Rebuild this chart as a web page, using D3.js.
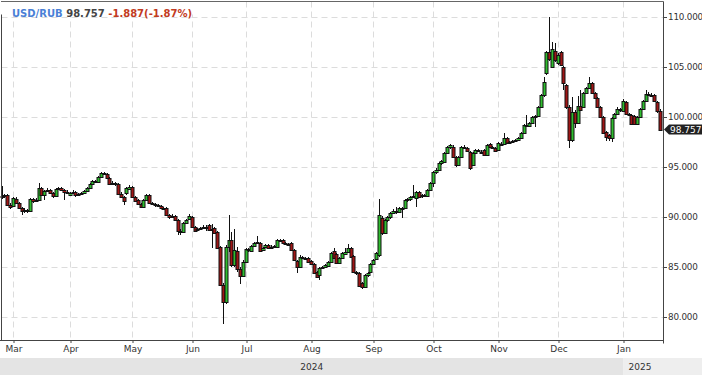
<!DOCTYPE html>
<html><head><meta charset="utf-8">
<script src="https://cdn.jsdelivr.net/npm/d3@7"></script>
<style>html,body{margin:0;padding:0;background:#fff;}svg{display:block;}</style>
</head><body><svg id="c" width="702" height="375"></svg>
<script>
// ---- data ----
const symbol = "USD/RUB";
const lastPriceText = "98.757";
const changeText = "-1.887(-1.87%)";
const firstDay = "2024-02-26";
const lastDay = "2025-01-21";
const holidays = ["2024-03-08","2024-05-09","2024-05-10","2024-06-12","2024-11-04","2025-01-01"];
const workingWeekends = ["2024-11-02","2024-12-28"];

const open = [
92.0,92.1,92.2,91.2,91.1,91.8,91.4,90.9,90.6,90.7,
90.6,91.8,91.6,91.7,92.9,92.2,92.6,92.7,92.4,92.1,
92.8,92.9,92.7,92.5,92.2,92.4,92.5,92.2,92.3,92.4,
92.6,92.9,93.3,93.6,93.5,94.0,94.4,94.3,93.9,93.3,
93.4,93.3,92.3,92.0,92.4,92.8,93.0,92.0,91.7,91.3,
91.0,91.7,92.2,91.4,91.3,91.2,91.1,90.9,90.9,90.2,
90.0,90.1,89.7,88.6,88.5,89.4,89.8,90.0,89.0,88.7,
88.8,88.9,89.0,89.2,88.7,88.9,88.5,87.0,83.2,81.5,
87.0,87.7,85.2,86.6,84.8,84.1,85.5,86.8,86.6,87.1,
87.4,87.4,86.7,87.0,87.2,87.0,87.0,87.0,87.7,87.7,
87.4,87.3,87.4,86.7,85.6,85.0,86.0,85.9,85.9,85.6,
85.3,84.5,84.2,84.9,85.0,85.1,85.5,86.6,86.3,85.4,
85.9,86.3,86.5,86.9,86.1,84.5,84.4,83.4,83.0,84.2,
84.5,85.3,85.8,86.2,89.9,88.4,89.7,90.0,90.4,90.6,
90.5,90.9,90.9,91.7,91.8,92.0,91.9,92.5,92.1,92.2,
92.1,92.7,93.4,94.5,94.7,95.4,95.5,96.4,97.0,97.0,
96.0,95.2,96.0,97.0,96.9,96.5,95.2,96.4,96.7,96.5,
96.7,96.2,97.3,97.0,96.9,96.7,97.3,97.3,97.9,97.4,
97.5,97.6,97.7,97.9,98.4,99.2,99.1,99.4,100.0,100.1,
101.0,102.2,104.4,106.5,105.0,106.6,105.4,106.5,105.0,103.2,
101.0,97.7,100.5,99.4,101.1,101.0,102.4,102.9,103.4,102.4,
101.9,101.0,100.0,98.5,98.2,97.9,99.9,100.3,100.8,100.6,
101.5,100.3,100.2,100.1,99.3,100.0,100.8,101.6,102.3,102.2,
102.2,101.5,100.64];

const high = [
93.1,92.3,92.3,91.4,92.0,92.0,91.5,91.0,90.9,90.8,
91.9,91.9,91.9,93.4,93.0,92.7,92.9,92.8,92.5,92.9,
93.0,93.0,92.8,92.7,92.5,92.7,92.6,92.4,92.5,92.7,
93.0,93.4,93.7,93.7,94.1,94.5,94.5,94.4,94.0,93.6,
93.5,93.4,92.5,92.1,93.0,93.2,93.1,92.1,91.8,91.4,
91.8,92.3,92.3,91.5,91.4,91.3,91.2,91.0,91.0,90.3,
90.3,90.2,89.8,88.8,89.5,89.8,90.3,90.1,89.1,88.9,
89.0,89.2,89.2,89.3,89.3,89.0,88.6,87.1,83.4,87.2,
90.2,88.5,88.8,87.0,85.0,85.7,86.9,86.9,87.2,87.5,
88.1,87.5,87.0,87.3,87.3,87.2,87.2,87.8,87.8,87.8,
87.5,87.4,87.5,86.8,85.7,86.2,86.1,86.0,86.0,85.7,
85.4,84.6,85.0,85.1,85.3,85.6,86.5,86.9,86.4,86.0,
86.5,86.9,87.3,87.0,86.2,84.6,84.5,83.5,84.3,84.5,
85.4,85.8,86.5,91.8,90.1,89.8,90.1,90.5,90.8,91.0,
91.0,91.0,91.8,91.9,92.1,93.2,92.6,92.6,92.3,92.3,
92.8,93.5,94.6,94.9,95.5,95.7,96.5,97.1,97.3,97.2,
96.1,96.1,97.1,97.2,97.0,96.6,96.5,96.8,96.8,96.7,
96.8,97.3,97.4,97.1,97.0,97.5,97.5,98.4,98.0,97.6,
97.7,97.8,98.0,98.5,99.3,100.2,99.5,100.1,100.2,101.1,
102.3,104.0,106.6,110.0,107.5,107.4,106.4,106.6,105.1,103.3,
101.2,102.0,100.7,102.1,102.7,102.5,103.0,104.0,103.5,102.5,
102.0,101.1,100.1,98.6,98.3,100.0,100.4,101.0,100.9,101.8,
101.6,100.4,100.3,100.2,100.1,100.9,101.7,102.7,102.5,102.4,
102.3,101.6,100.8];

const low = [
91.8,91.9,91.1,90.8,91.0,91.3,90.8,90.2,90.4,90.4,
90.5,91.4,91.5,91.6,92.1,91.7,92.5,92.3,91.9,92.0,
92.7,92.6,91.7,92.3,92.1,92.3,92.0,92.1,92.2,92.3,
92.5,92.8,93.2,93.4,93.4,93.9,94.2,93.8,93.2,93.2,
93.1,92.2,91.9,91.2,92.2,92.7,91.9,91.5,91.2,90.9,
90.9,91.6,91.3,91.2,91.0,91.0,90.8,90.7,90.1,89.8,
89.9,89.6,88.2,88.2,88.4,89.3,89.7,88.9,88.5,88.6,
88.7,88.8,88.6,88.6,86.9,88.3,86.8,83.1,79.3,81.3,
86.5,85.0,85.0,84.5,83.3,84.0,85.4,86.5,86.5,87.0,
87.3,86.5,86.6,86.9,86.8,86.9,86.9,86.9,87.5,87.3,
87.2,87.2,86.6,85.6,84.4,84.9,85.8,85.7,85.4,85.2,
84.3,83.9,83.7,84.8,84.9,85.0,85.4,85.8,85.3,85.3,
85.8,86.2,86.4,85.9,84.4,84.2,83.0,82.8,82.9,84.0,
84.4,85.2,85.7,86.0,88.2,88.3,89.5,89.8,90.3,90.3,
90.4,89.9,90.8,91.5,91.6,91.9,91.0,91.9,91.9,92.0,
92.0,92.6,93.0,94.3,94.6,95.2,95.4,96.3,96.8,95.9,
95.0,95.1,95.9,96.8,96.5,94.7,95.1,96.3,96.5,96.3,
96.1,96.1,96.9,96.8,96.5,96.6,97.2,97.2,97.3,97.3,
97.4,97.5,97.6,97.8,98.3,99.0,99.0,99.3,99.0,100.0,
100.9,102.0,104.2,105.6,104.9,105.5,105.2,105.1,102.7,100.8,
96.9,97.5,98.9,99.3,100.6,100.9,102.3,102.8,102.3,101.8,
100.9,99.9,98.3,97.6,97.6,97.5,99.8,100.2,100.5,100.5,
100.2,100.1,99.2,99.2,99.2,99.9,100.7,101.5,102.1,102.0,
101.5,100.4,98.6];

const close = [
92.1,92.2,91.2,91.0,91.9,91.4,90.9,90.6,90.7,90.6,
91.8,91.6,91.7,92.9,92.2,92.6,92.7,92.4,92.1,92.8,
92.9,92.7,92.5,92.4,92.4,92.5,92.2,92.3,92.4,92.6,
92.9,93.3,93.6,93.5,94.0,94.4,94.3,93.9,93.3,93.4,
93.3,92.3,92.0,91.6,92.9,93.0,92.0,91.6,91.3,91.0,
91.7,92.2,91.4,91.3,91.2,91.1,90.9,90.9,90.2,90.0,
90.1,89.7,88.6,88.5,89.4,89.7,90.1,89.0,88.6,88.8,
88.9,89.0,88.9,88.7,88.8,88.4,86.9,83.2,81.5,87.0,
87.7,85.2,86.7,84.8,84.1,85.5,86.8,86.7,87.1,87.4,
87.5,86.6,86.9,87.2,86.9,87.0,87.1,87.7,87.6,87.4,
87.3,87.3,86.7,85.7,85.0,86.0,85.9,85.8,85.5,85.3,
84.4,84.0,84.9,85.0,85.2,85.5,86.4,85.9,85.4,85.9,
86.4,86.5,86.9,86.0,84.5,84.4,83.1,83.0,84.2,84.4,
85.3,85.7,86.4,90.2,88.4,89.7,90.0,90.4,90.6,90.5,
90.9,90.8,91.7,91.8,92.0,92.1,92.5,92.0,92.2,92.1,
92.7,93.4,94.5,94.7,95.4,95.6,96.4,97.0,97.2,96.0,
95.2,96.0,97.0,96.9,96.6,94.9,96.4,96.7,96.6,96.4,
96.2,97.2,97.0,96.9,96.6,97.4,97.3,97.9,97.4,97.5,
97.6,97.7,97.9,98.4,99.2,99.1,99.4,100.0,100.1,101.0,
102.2,103.5,106.5,105.8,106.8,105.7,106.2,105.2,103.4,101.0,
97.7,100.5,99.4,101.1,100.7,102.4,102.9,103.4,102.4,101.9,
101.0,100.0,98.4,98.0,97.9,99.9,100.3,100.8,100.7,101.6,
100.3,100.2,99.3,99.3,100.0,100.8,101.6,102.3,102.3,102.2,
101.6,100.64,98.757];

const yTicks = [80, 85, 90, 95, 100, 105, 110];
const yearLabels = ["2024", "2025"];

// ---- trading days ----
const parse = d3.timeParse("%Y-%m-%d");
const fmt = d3.timeFormat("%Y-%m-%d");
const hol = new Set(holidays), wk = new Set(workingWeekends);
const dates = [];
for (let d = parse(firstDay); d <= parse(lastDay); d = d3.timeDay.offset(d, 1)) {
  const s = fmt(d), w = d.getDay();
  if ((w !== 0 && w !== 6 && !hol.has(s)) || wk.has(s)) dates.push(d);
}
const n = Math.min(dates.length, close.length);
const data = d3.range(n).map(i => ({i, date: dates[i], o: open[i], h: high[i], l: low[i], c: close[i]}));

// ---- layout ----
const svg = d3.select("#c");
const plotL = 1.5, plotR = 663.5, plotT = 1.5, plotB = 340.5;
const x = d3.scaleBand().domain(d3.range(n)).range([0.23, 0.23 + n * 2.837]).padding(0);
const cx = i => x(i) + x.bandwidth() / 2;
const y = d3.scaleLinear().domain([80, 110]).range([317, 17]);
const FONT = "DejaVu Sans, Verdana, sans-serif";

// month ticks: first trading day of each month
const monthIdx = data.filter((d, k) => k > 0 && d.date.getMonth() !== data[k - 1].date.getMonth()).map(d => d.i);

// background
svg.append("rect").attr("width", 702).attr("height", 375).attr("fill", "#fff");

// grid
const grid = svg.append("g").attr("stroke", "#dcdcdc").attr("stroke-dasharray", "6,4").attr("stroke-width", 1);
grid.selectAll("line.h").data(yTicks).join("line")
  .attr("x1", plotL).attr("x2", plotR)
  .attr("y1", d => Math.round(y(d)) + 0.5).attr("y2", d => Math.round(y(d)) + 0.5);
grid.selectAll("line.v").data(monthIdx).join("line")
  .attr("x1", d => Math.round(cx(d)) + 0.5).attr("x2", d => Math.round(cx(d)) + 0.5)
  .attr("y1", plotT).attr("y2", plotB);

// candles
const up = "#2fbd2f", down = "#a01616";
const cg = svg.append("g");
cg.selectAll("line.w").data(data).join("line")
  .attr("x1", d => Math.round(cx(d.i)) + 0.5).attr("x2", d => Math.round(cx(d.i)) + 0.5)
  .attr("y1", d => y(d.h)).attr("y2", d => y(d.l))
  .attr("stroke", "#111").attr("stroke-width", 1);
cg.selectAll("rect.b").data(data).join("rect")
  .attr("x", d => Math.round(cx(d.i)) - 1)
  .attr("width", 3)
  .attr("y", d => Math.round(y(Math.max(d.o, d.c))) + 0.5)
  .attr("height", d => Math.max(1, Math.round(Math.abs(y(d.o) - y(d.c)))))
  .attr("fill", d => d.c >= d.o ? up : down)
  .attr("stroke", "#111").attr("stroke-width", 1);

// plot frame
svg.append("line").attr("x1", plotL - 0.5).attr("x2", plotR).attr("y1", plotT).attr("y2", plotT).attr("stroke", "#666");
svg.append("line").attr("x1", plotL).attr("x2", plotL).attr("y1", 13).attr("y2", plotB).attr("stroke", "#444");
svg.append("line").attr("x1", plotR).attr("x2", plotR).attr("y1", plotT).attr("y2", plotB + 3).attr("stroke", "#444");
svg.append("line").attr("x1", 0).attr("x2", plotR).attr("y1", plotB).attr("y2", plotB).attr("stroke", "#444");

// right axis
const ya = svg.append("g").attr("transform", `translate(${plotR - 0.5},0)`)
  .call(d3.axisRight(y).tickValues(yTicks).tickSize(4).tickPadding(1).tickFormat(d3.format(".3f")));
ya.select(".domain").remove();
ya.selectAll(".tick line").attr("stroke", "#444");
ya.selectAll(".tick text").attr("fill", "#333").attr("font-family", FONT).attr("font-size", 8.8)
  .attr("letter-spacing", "-0.2px");

// last price tag
const ly = y(close[n - 1]);
svg.append("path")
  .attr("d", `M664,${ly} L669,${ly - 5} L702,${ly - 5} L702,${ly + 5} L669,${ly + 5} Z`)
  .attr("fill", "#222");
svg.append("text").attr("x", 670).attr("y", ly).attr("dy", "0.35em")
  .attr("fill", "#fff").attr("font-family", FONT).attr("font-size", 9).text(d3.format(".3f")(close[n - 1]));

// bottom axis
const xa = svg.append("g").attr("transform", `translate(0,${plotB - 0.5})`)
  .call(d3.axisBottom(d3.scaleIdentity()).tickValues(monthIdx.map(i => Math.round(cx(i)) + 0.5))
    .tickSize(3).tickPadding(3)
    .tickFormat((v, k) => d3.timeFormat("%b")(dates[monthIdx[k]])));
xa.select(".domain").remove();
xa.selectAll(".tick line").attr("stroke", "#444");
xa.selectAll(".tick text").attr("fill", "#333").attr("font-family", FONT).attr("font-size", 9);

// year band
const janX = Math.round(cx(monthIdx[monthIdx.length - 1])) + 0.5;
svg.append("rect").attr("x", 0).attr("y", 358).attr("width", janX).attr("height", 17).attr("fill", "#e4e4e4");
svg.append("rect").attr("x", janX).attr("y", 358).attr("width", 702 - janX).attr("height", 17).attr("fill", "#eeeeee");
svg.append("text").attr("x", janX / 2).attr("y", 369.5).attr("text-anchor", "middle")
  .attr("fill", "#333").attr("font-family", FONT).attr("font-size", 9).text(yearLabels[0]);
svg.append("text").attr("x", janX + 5).attr("y", 369.5)
  .attr("fill", "#333").attr("font-family", FONT).attr("font-size", 9).text(yearLabels[1]);

// title
svg.append("rect").attr("x", 0).attr("y", 2).attr("width", 196).attr("height", 12.5).attr("fill", "#fff");
const t = svg.append("text").attr("x", 12).attr("y", 16.5)
  .attr("font-family", FONT).attr("font-size", 10).attr("font-weight", "bold");
t.append("tspan").attr("fill", "#4a7fd6").text(symbol);
t.append("tspan").attr("fill", "#444").text(" " + lastPriceText);
t.append("tspan").attr("fill", "#c23b22").text(" " + changeText);
</script></body></html>
